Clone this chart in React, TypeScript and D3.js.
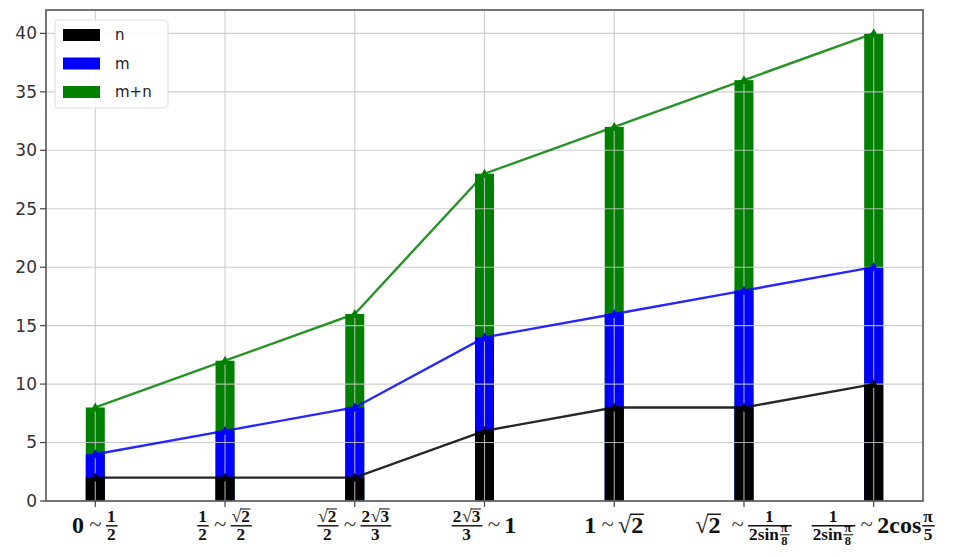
import { useEffect, useRef } from 'react';
import * as d3 from 'd3';

// series values
const categories = ['c1', 'c2', 'c3', 'c4', 'c5', 'c6', 'c7'];
const nValues = [2, 2, 2, 6, 8, 8, 10];
const mValues = [4, 6, 8, 14, 16, 18, 20];
const mnValues = [8, 12, 16, 28, 32, 36, 40];
const yTicks = [0, 5, 10, 15, 20, 25, 30, 35, 40];
const seriesNames = ['n', 'm', 'm+n'];
const seriesColors = ['#000000', '#0000ff', '#008000'];

// tick labels as tiny math markup
type Tok = string | { frac: [Tok[], Tok[]] } | { sqrt: string };
const fr = (a: Tok[], b: Tok[]): Tok => ({ frac: [a, b] });
const sq = (s: string): Tok => ({ sqrt: s });
const sinPi8: Tok[] = ['2sin', fr(['π'], ['8'])];
const tickLabels: Tok[][] = [
  ['0', '~', fr(['1'], ['2'])],
  [fr(['1'], ['2']), '~', fr([sq('2')], ['2'])],
  [fr([sq('2')], ['2']), '~', fr(['2', sq('3')], ['3'])],
  [fr(['2', sq('3')], ['3']), '~', '1'],
  ['1', '~', sq('2')],
  [sq('2'), '\u00a0~', fr(['1'], sinPi8)],
  [fr(['1'], sinPi8), '~', '2cos', fr(['π'], ['5'])],
];

const W = 953, H = 557;
const left = 46, right = 923, top = 10, bottom = 501;

function drawToks(g: any, toks: Tok[], size: number): number {
  let x = 0;
  for (const t of toks) {
    if (typeof t === 'string') {
      const isTilde = t.trim() === '~';
      const pad = isTilde ? size * 0.18 : 0;
      const el = g.append('text')
        .attr('x', x + pad).attr('y', isTilde ? -size * 0.04 : 0)
        .attr('font-size', isTilde ? size * 0.95 : size)
        .attr('font-weight', isTilde ? 'normal' : 'bold')
        .attr('fill', isTilde ? '#444' : '#111')
        .text(t);
      x += (el.node() as SVGTextElement).getComputedTextLength() + (isTilde ? 2 * pad : 1);
    } else if ('sqrt' in t) {
      const s1 = g.append('text').attr('x', x).attr('y', 0)
        .attr('font-size', size).attr('font-weight', 'bold').attr('fill', '#111').text('√');
      const w1 = (s1.node() as SVGTextElement).getComputedTextLength();
      const s2 = g.append('text').attr('x', x + w1).attr('y', 0)
        .attr('font-size', size).attr('font-weight', 'bold').attr('fill', '#111').text(t.sqrt);
      const w2 = (s2.node() as SVGTextElement).getComputedTextLength();
      g.append('line')
        .attr('x1', x + w1 - 1).attr('x2', x + w1 + w2 + 0.5)
        .attr('y1', -size * 0.78).attr('y2', -size * 0.78)
        .attr('stroke', '#111').attr('stroke-width', Math.max(1, size * 0.06));
      x += w1 + w2 + 1;
    } else {
      const sub = size * 0.72;
      const gn = g.append('g');
      const gd = g.append('g');
      const wn = drawToks(gn, t.frac[0], sub);
      const wd = drawToks(gd, t.frac[1], sub);
      const w = Math.max(wn, wd) + 2;
      const bar = -size * 0.3;
      gn.attr('transform', `translate(${x + (w - wn) / 2},${bar - size * 0.14})`);
      gd.attr('transform', `translate(${x + (w - wd) / 2},${bar + sub * 0.82})`);
      g.append('line')
        .attr('x1', x).attr('x2', x + w)
        .attr('y1', bar).attr('y2', bar)
        .attr('stroke', '#111').attr('stroke-width', Math.max(1, size * 0.06));
      x += w + 1;
    }
  }
  return x;
}

const Chart = () => {
  const ref = useRef<SVGSVGElement>(null);

  useEffect(() => {
    const svg = d3.select(ref.current);
    svg.selectAll('*').remove();

    const x = d3.scalePoint<string>().domain(categories).range([left, right]).padding(0.38);
    const y = d3.scaleLinear().domain([0, 42]).range([bottom, top]);
    const barW = 19;

    const series = [nValues, mValues, mnValues];

    // bars, tallest first so the shorter ones sit on top
    [2, 1, 0].forEach((s) => {
      svg.append('g').selectAll('rect')
        .data(series[s])
        .enter()
        .append('rect')
        .attr('x', (d, i) => (x(categories[i]) as number) - barW / 2)
        .attr('y', (d) => y(d))
        .attr('width', barW)
        .attr('height', (d) => bottom - y(d))
        .attr('fill', seriesColors[s]);
    });

    // grid over bars
    const grid = svg.append('g').attr('stroke', '#c4c4c4').attr('stroke-opacity', 0.85).attr('stroke-width', 1.1);
    yTicks.forEach((t) => {
      grid.append('line').attr('x1', left).attr('x2', right).attr('y1', y(t)).attr('y2', y(t));
    });
    categories.forEach((c) => {
      grid.append('line').attr('x1', x(c) as number).attr('x2', x(c) as number).attr('y1', top).attr('y2', bottom);
    });

    // lines and markers
    const line = d3.line<number>()
      .x((d, i) => x(categories[i]) as number)
      .y((d) => y(d));
    [0, 1, 2].forEach((s) => {
      svg.append('path')
        .datum(series[s])
        .attr('d', line)
        .attr('fill', 'none')
        .attr('stroke', seriesColors[s])
        .attr('stroke-width', 2.4)
        .attr('stroke-opacity', 0.85);
      svg.append('g').selectAll('path')
        .data(series[s])
        .enter()
        .append('path')
        .attr('d', d3.symbol().type(d3.symbolTriangle).size(45))
        .attr('transform', (d, i) => `translate(${x(categories[i])},${y(d) + 1})`)
        .attr('fill', seriesColors[s]);
    });

    // frame
    svg.append('rect')
      .attr('x', left).attr('y', top)
      .attr('width', right - left).attr('height', bottom - top)
      .attr('fill', 'none').attr('stroke', '#555').attr('stroke-width', 1.6);

    // y axis ticks
    const yAx = svg.append('g').attr('font-family', '"DejaVu Sans", sans-serif').attr('font-size', 17).attr('fill', '#333');
    yTicks.forEach((t) => {
      yAx.append('line').attr('x1', left - 6).attr('x2', left).attr('y1', y(t)).attr('y2', y(t))
        .attr('stroke', '#444').attr('stroke-width', 1.2);
      yAx.append('text').attr('x', left - 9).attr('y', y(t)).attr('dy', '0.35em')
        .attr('text-anchor', 'end').text(String(t));
    });

    // x axis ticks + math labels
    categories.forEach((c, i) => {
      const cx = x(c) as number;
      svg.append('line').attr('x1', cx).attr('x2', cx).attr('y1', bottom).attr('y2', bottom + 6)
        .attr('stroke', '#444').attr('stroke-width', 1.2);
      const g = svg.append('g').attr('font-family', '"Liberation Serif", serif');
      const w = drawToks(g, tickLabels[i], 24);
      g.attr('transform', `translate(${cx - w / 2},${533})`);
    });

    // legend
    const lg = svg.append('g').attr('font-family', '"DejaVu Sans", sans-serif').attr('font-size', 15);
    lg.append('rect').attr('x', 55).attr('y', 20).attr('width', 113).attr('height', 88).attr('rx', 3)
      .attr('fill', '#fff').attr('fill-opacity', 0.85).attr('stroke', '#ddd');
    seriesNames.forEach((name, i) => {
      const cy = 35 + i * 28.5;
      lg.append('rect').attr('x', 63).attr('y', cy - 6).attr('width', 37).attr('height', 12)
        .attr('fill', seriesColors[i]);
      lg.append('text').attr('x', 115).attr('y', cy).attr('dy', '0.35em').attr('fill', '#222').text(name);
    });
  }, []);

  return <svg ref={ref} width={W} height={H} style={{ display: 'block', background: '#fff' }} />;
};

export default function App() {
  return (
    <div style={{ margin: -8 }}>
      <Chart />
    </div>
  );
}
